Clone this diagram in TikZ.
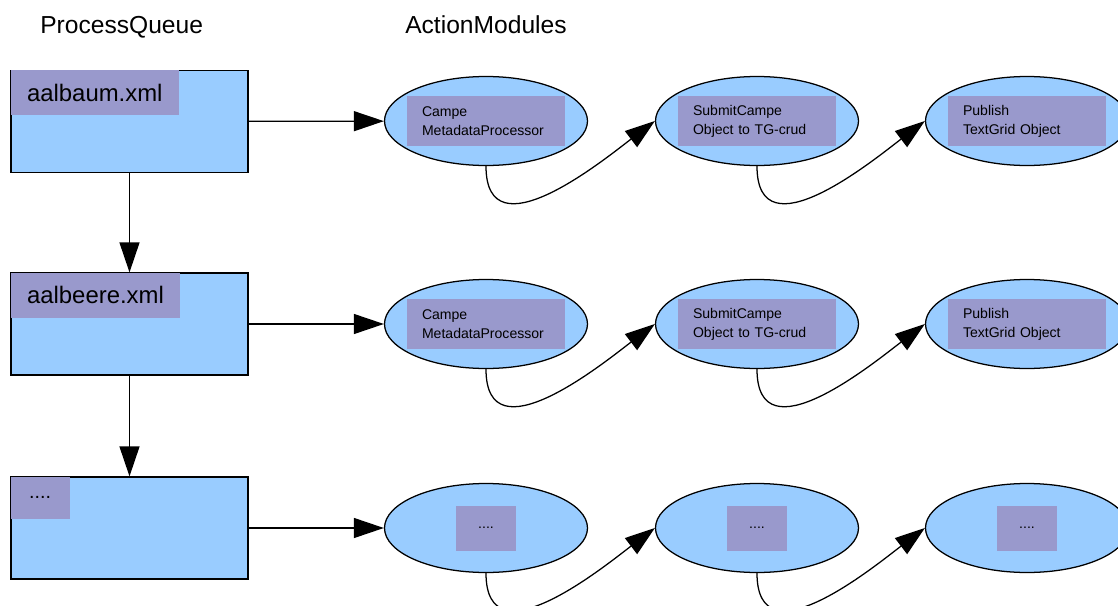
\documentclass[tikz,border=0pt]{standalone}
\usepackage{fontspec}
\setmainfont{Liberation Sans}
\usetikzlibrary{arrows.meta,shapes.geometric}
\definecolor{qblue}{RGB}{153,204,255}
\definecolor{qpurple}{RGB}{153,153,204}
\begin{document}
\begin{tikzpicture}[
  x=0.25mm,y=-0.25mm,
  font=\fontsize{10}{13.5}\selectfont,
  hd/.style={anchor=base west,inner sep=0pt,font=\fontsize{17.5}{20}\selectfont},
  qbox/.style={draw,fill=qblue,line width=0.9pt,minimum width=59.25mm,minimum height=25.5mm,inner sep=0pt},
  qlbl/.style={fill=qpurple,anchor=north west,inner xsep=4.1mm,inner ysep=0pt,minimum height=11.25mm,font=\fontsize{17}{20}\selectfont},
  mod/.style={ellipse,draw,fill=qblue,line width=0.9pt,minimum width=50.75mm,minimum height=22.25mm,inner sep=0pt},
  mlbl/.style={fill=qpurple,text width=32mm,align=left,inner xsep=3.75mm,inner ysep=0pt,minimum height=12.5mm},
  dots/.style={fill=qpurple,minimum width=15mm,minimum height=11.25mm,inner sep=0pt},
  ar/.style={-{Triangle[length=7.5mm,width=5mm]},line width=0.9pt}
]
\useasboundingbox (0,0) rectangle (1118,606);
\clip (0,0) rectangle (1118,606);

% ---------------- headings
\node[hd] (h1) at (40,34) {ProcessQueue};
\node[hd] (h2) at (405,33) {ActionModules};

% ---------------- process queue
\node[qbox] (q1) at (129.5,121.5) {};
\node[qbox] (q2) at (129.5,324) {};
\node[qbox] (q3) at (129.5,528) {};
\node[qlbl] (l1) at (q1.north west) {aalbaum.xml};
\node[qlbl] (l2) at (q2.north west) {aalbeere.xml};
\node[qlbl,minimum width=14.75mm,minimum height=10.5mm,font=\fontsize{14}{16}\selectfont] (l3) at (q3.north west) {....};

% ---------------- action modules, row 1
\node[mod] (m11) at (486,121) {};
\node[mod] (m12) at (757,121) {};
\node[mod] (m13) at (1027,121) {};
\node[mlbl] (t11) at (m11) {Campe\\MetadataProcessor};
\node[mlbl] (t12) at (m12) {SubmitCampe\\Object to TG-crud};
\node[mlbl] (t13) at (m13) {Publish\\TextGrid Object};

% ---------------- row 2
\node[mod] (m21) at (486,324) {};
\node[mod] (m22) at (757,324) {};
\node[mod] (m23) at (1027,324) {};
\node[mlbl] (t21) at (m21) {Campe\\MetadataProcessor};
\node[mlbl] (t22) at (m22) {SubmitCampe\\Object to TG-crud};
\node[mlbl] (t23) at (m23) {Publish\\TextGrid Object};

% ---------------- row 3
\node[mod] (m31) at (486,528) {};
\node[mod] (m32) at (757,528) {};
\node[mod] (m33) at (1027,528) {};
\node[dots] (t31) at (m31) {....};
\node[dots] (t32) at (m32) {....};
\node[dots] (t33) at (m33) {....};

% ---------------- arrows
\foreach \a/\b in {q1/q2,q2/q3} \draw[ar] (\a) -- (\b);
\foreach \r in {1,2,3} \draw[ar] (q\r) -- (m\r1);
\foreach \r in {1,2,3}
  \foreach \a/\b in {1/2,2/3}
    \draw[ar] (m\r\a.south) .. controls +(0,90) and +(-50,38) .. (m\r\b.west);
\end{tikzpicture}
\end{document}
